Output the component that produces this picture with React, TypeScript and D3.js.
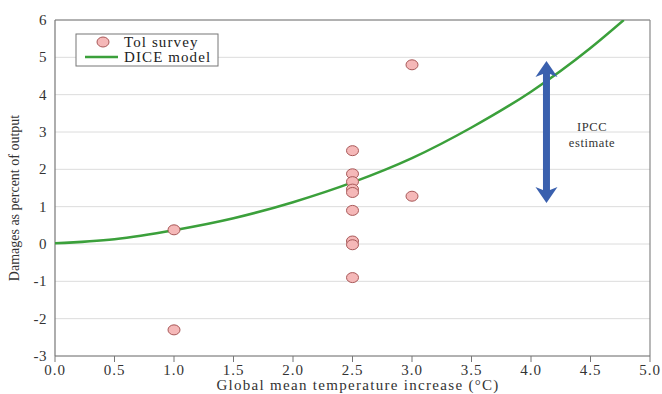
import React from "react";
import * as d3 from "d3";

const W = 662;
const H = 394;

const surveyTemp = [1.0, 1.0, 2.5, 2.5, 2.5, 2.5, 2.5, 2.5, 2.5, 2.5, 2.5, 3.0, 3.0];
const surveyDamage = [0.38, -2.3, 2.5, 1.88, 1.67, 1.47, 1.38, 0.9, 0.08, -0.02, -0.9, 4.8, 1.28];

const diceTemp = [0, 0.5, 1.0, 1.5, 2.0, 2.5, 3.0, 3.5, 4.0, 4.5, 4.78];
const diceDamage = [0.02, 0.13, 0.37, 0.69, 1.12, 1.65, 2.3, 3.12, 4.08, 5.25, 6.0];

const xTicks = [0, 0.5, 1, 1.5, 2, 2.5, 3, 3.5, 4, 4.5, 5];
const yTicks = [-3, -2, -1, 0, 1, 2, 3, 4, 5, 6];

const ipccTemp = 4.13;
const ipccRange = [1.1, 4.9];

const FONT = "'Liberation Serif', 'Times New Roman', serif";

export default function App() {
  const x = d3.scaleLinear().domain([0, 5]).range([55, 650]);
  const y = d3.scaleLinear().domain([-3, 6]).range([356, 20]);

  const diceData = diceTemp.map((t, i) => [t, diceDamage[i]] as [number, number]);
  const line = d3
    .line<[number, number]>()
    .x((d) => x(d[0]))
    .y((d) => y(d[1]))
    .curve(d3.curveMonotoneX);

  const ax = x(ipccTemp);
  const yTop = y(ipccRange[1]);
  const yBot = y(ipccRange[0]);
  const headH = 16;
  const headW = 11;
  const shaftW = 3.5;
  const arrowPath = [
    `M${ax},${yTop}`,
    `L${ax + headW},${yTop + headH}`,
    `L${ax + shaftW},${yTop + headH - 3}`,
    `L${ax + shaftW},${yBot - headH + 3}`,
    `L${ax + headW},${yBot - headH}`,
    `L${ax},${yBot}`,
    `L${ax - headW},${yBot - headH}`,
    `L${ax - shaftW},${yBot - headH + 3}`,
    `L${ax - shaftW},${yTop + headH - 3}`,
    `L${ax - headW},${yTop + headH}`,
    "Z",
  ].join(" ");

  return (
    <svg
      width={W}
      height={H}
      style={{ position: "absolute", left: 0, top: 0, background: "#fff" }}
      fontFamily={FONT}
    >
      <defs>
        <clipPath id="plot">
          <rect x={55} y={20} width={595} height={336} />
        </clipPath>
      </defs>
      {yTicks.map((t) => (
        <line key={"g" + t} x1={55} x2={650} y1={y(t)} y2={y(t)} stroke="#dcdcdc" strokeWidth={1} />
      ))}
      <line x1={55} x2={650} y1={20} y2={20} stroke="#777" strokeWidth={1.2} />
      <line x1={650} x2={650} y1={20} y2={356} stroke="#888" strokeWidth={1.2} />
      <line x1={55} x2={55} y1={20} y2={356} stroke="#777" strokeWidth={1.2} />
      <line x1={55} x2={650} y1={356} y2={356} stroke="#777" strokeWidth={1.2} />
      {xTicks.map((t) => (
        <g key={"x" + t}>
          <line x1={x(t)} x2={x(t)} y1={356} y2={362} stroke="#777" strokeWidth={1} />
          <text x={x(t)} y={375} textAnchor="middle" fontSize={15} letterSpacing={1} fill="#333">
            {t.toFixed(1)}
          </text>
        </g>
      ))}
      {yTicks.map((t) => (
        <text key={"y" + t} x={47} y={y(t) + 5} textAnchor="end" fontSize={15} letterSpacing={0.5} fill="#333">
          {t}
        </text>
      ))}
      <text x={358} y={390} textAnchor="middle" fontSize={15} fill="#333" letterSpacing={1.3}>
        Global mean temperature increase (°C)
      </text>
      <text
        transform={`translate(19,${198}) rotate(-90)`}
        textAnchor="middle"
        fontSize={14}
        fill="#333"
      >
        Damages as percent of output
      </text>

      <path d={line(diceData) || ""} fill="none" stroke="#3ba03b" strokeWidth={2.5} clipPath="url(#plot)" />

      {surveyTemp.map((t, i) => (
        <ellipse
          key={"p" + i}
          cx={x(t)}
          cy={y(surveyDamage[i])}
          rx={6}
          ry={5}
          fill="#f5b8b8"
          stroke="#a85858"
          strokeWidth={1}
        />
      ))}

      <path d={arrowPath} fill="#3a60ae" />
      <text x={592} y={131} textAnchor="middle" fontSize={12.5} letterSpacing={0.6} fill="#333">
        IPCC
      </text>
      <text x={592} y={147} textAnchor="middle" fontSize={12.5} letterSpacing={0.6} fill="#333">
        estimate
      </text>

      <rect x={76} y={34} width={142} height={32} fill="#fff" stroke="#777" strokeWidth={1} />
      <ellipse cx={103} cy={42} rx={6} ry={5} fill="#f5b8b8" stroke="#a85858" strokeWidth={1} />
      <text x={124} y={47} fontSize={15} letterSpacing={1.1} fill="#222">
        Tol survey
      </text>
      <line x1={85} x2={118} y1={57} y2={57} stroke="#3ba03b" strokeWidth={2.5} />
      <text x={124} y={62} fontSize={15} letterSpacing={1.1} fill="#222">
        DICE model
      </text>
    </svg>
  );
}
